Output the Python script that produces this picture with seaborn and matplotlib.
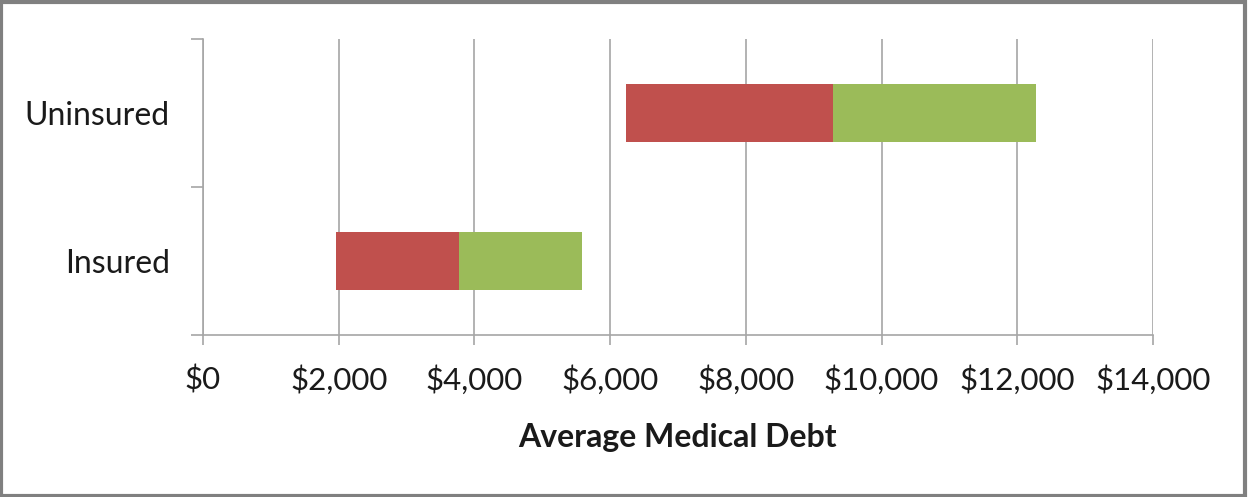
import matplotlib
matplotlib.use('Agg')
import matplotlib.pyplot as plt
import seaborn as sns
import pandas as pd
from matplotlib.ticker import FuncFormatter, MultipleLocator, FixedLocator
from matplotlib.patches import Rectangle

# data (low estimate, mid estimate, high estimate)
groups = ['Uninsured', 'Insured']
low = [6240, 1960]
mid = [9280, 3770]
high = [12280, 5580]

df = pd.DataFrame({'group': groups, 'low': low, 'mid': mid, 'high': high})
df['red'] = df['mid'] - df['low']
df['green'] = df['high'] - df['mid']

sns.set_style('white')
plt.rcParams['font.family'] = ['Lato', 'DejaVu Sans']

fig = plt.figure(figsize=(12.49, 4.97), dpi=100)
ax = fig.add_axes([0.1625, 0.326, 0.7606, 0.5955])

# red segment from low to mid, green from mid to high
sns.barplot(data=df, x='red', y='group', color='#c0504d', width=0.39,
            saturation=1, linewidth=0, ax=ax, zorder=3)
for p, s in zip(ax.patches, df['low']):
    p.set_x(s)
n = len(ax.patches)
sns.barplot(data=df, x='green', y='group', color='#9bbb59', width=0.39,
            saturation=1, linewidth=0, ax=ax, zorder=3)
for p, s in zip(ax.patches[n:], df['mid']):
    p.set_x(s)

ax.set_xlim(0, 14000)
ax.set_ylim(1.5, -0.5)
ax.xaxis.set_major_locator(MultipleLocator(2000))
ax.xaxis.set_major_formatter(FuncFormatter(lambda v, _: f'${v:,.0f}'))
ax.yaxis.set_minor_locator(FixedLocator([-0.5, 0.5, 1.5]))

ax.grid(axis='x', color='#a6a6a6', linewidth=1.2, zorder=0)
ax.set_axisbelow(True)
for side in ['top', 'right']:
    ax.spines[side].set_visible(False)
for side in ['left', 'bottom']:
    ax.spines[side].set_color('#a6a6a6')
    ax.spines[side].set_linewidth(1.2)

ax.tick_params(axis='x', which='major', direction='out', length=7, width=1.2,
               color='#a6a6a6', labelsize=22.5, pad=15, bottom=True)
ax.tick_params(axis='y', which='major', length=0, labelsize=23, pad=24)
ax.tick_params(axis='y', which='minor', direction='out', length=9, width=1.2,
               color='#a6a6a6', left=True)
for lbl in ax.get_xticklabels() + ax.get_yticklabels():
    lbl.set_color('#1a1a1a')

ax.set_xlabel('Average Medical Debt', fontsize=23, fontweight='bold',
              labelpad=20, color='#1a1a1a')
ax.set_ylabel('')

# figure frame
fig.patches.append(Rectangle((0.001, 0.003), 0.996, 0.992, transform=fig.transFigure,
                             fill=False, edgecolor='#808080', linewidth=3))

fig.savefig('out.png', dpi=100, facecolor='white')
plt.close(fig)
